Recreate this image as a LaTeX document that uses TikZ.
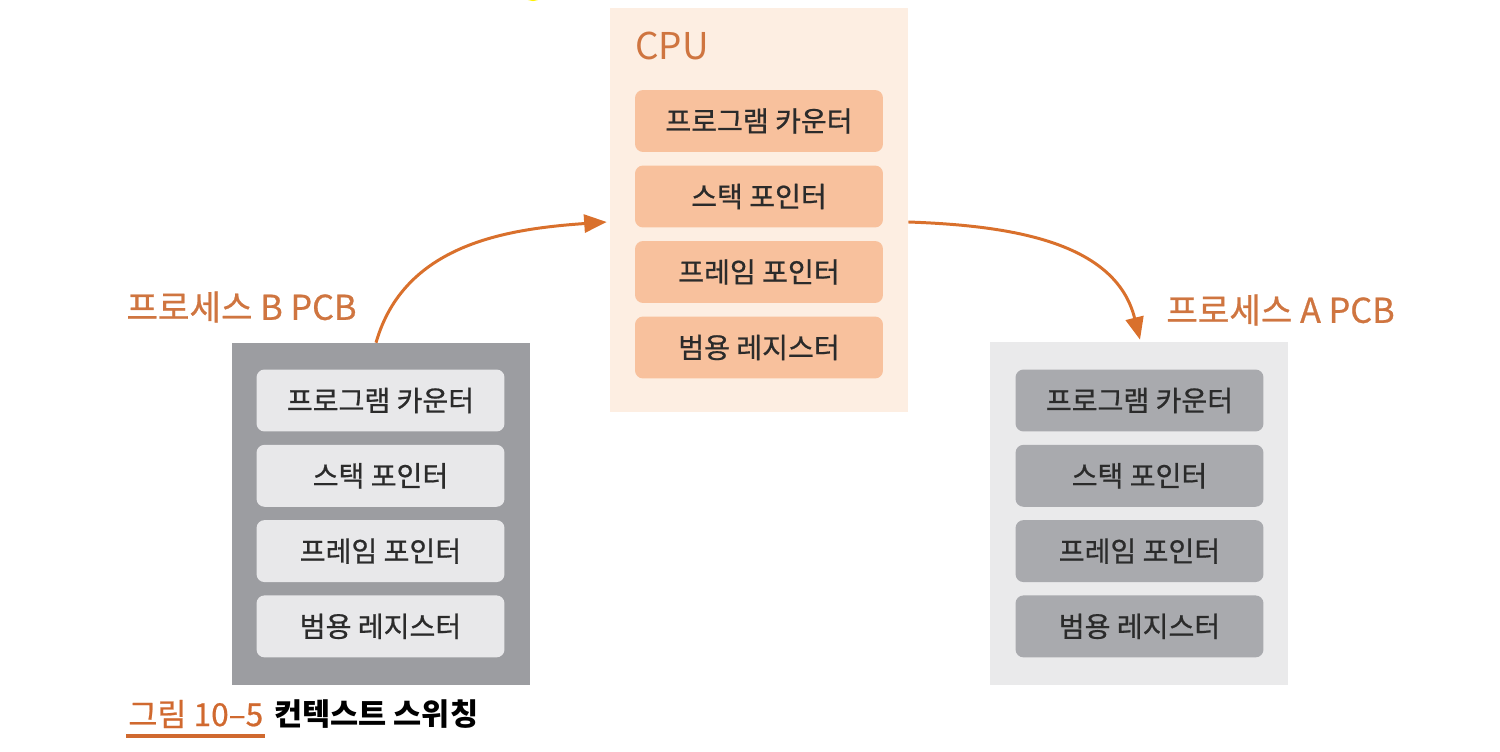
\documentclass[tikz,border=0pt]{standalone}
\usepackage{fontspec}
\newfontfamily\kr{Noto Sans CJK KR}
\newfontfamily\krm{Noto Sans CJK KR}[FakeBold=0.7]
\usetikzlibrary{arrows.meta,positioning,calc}
\definecolor{cpubg}{HTML}{FDEEE2}
\definecolor{cpureg}{HTML}{F8C19D}
\definecolor{pcbbbg}{HTML}{9C9DA1}
\definecolor{pcbbreg}{HTML}{E8E8EA}
\definecolor{pcbabg}{HTML}{EAEAEB}
\definecolor{pcbareg}{HTML}{A9AAAE}
\definecolor{lblorange}{HTML}{CF7540}
\definecolor{arroworange}{HTML}{D9702C}
\definecolor{figorange}{HTML}{D0692F}
\definecolor{regtext}{HTML}{2B2B2B}

\begin{document}
\begin{tikzpicture}[x=0.02cm,y=0.02cm,
    regbox/.style={rectangle,rounded corners=0.16cm,minimum width=4.96cm,minimum height=1.24cm,inner sep=0pt,font=\krm\fontsize{16}{19}\selectfont,text=regtext},
    outbox/.style={rectangle,minimum width=5.96cm,inner sep=0pt},
    pcblabel/.style={font=\krm\fontsize{19.5}{23}\selectfont,text=lblorange,inner sep=0pt},
    switcharrow/.style={draw=arroworange,line width=1.7pt,-{Triangle[length=0.45cm,width=0.36cm]}}]
  \useasboundingbox (0,0) rectangle (1500,751);
  \draw [yellow,line width=1.2pt] (533,763) circle (12);

  \path (759,541) node (cpu) [outbox,fill=cpubg,minimum height=8.08cm] {}
        (381,237) node (pcbb) [outbox,fill=pcbbbg,minimum height=6.84cm] {}
        (1139,237.5) node (pcba) [outbox,fill=pcbabg,minimum height=6.86cm] {};
  \node (cpulbl) [anchor=west,inner sep=0pt,font=\kr\fontsize{21}{25}\selectfont,text=lblorange] at (635,705) {CPU};

  \foreach \reg [count=\i] in {프로그램 카운터,스택 포인터,프레임 포인터,범용 레지스터} {
    \path (759,705.5-75.5*\i) node (cpu\i) [regbox,fill=cpureg] {\reg}
          (380.5,425.8-75.3*\i) node (pcbb\i) [regbox,fill=pcbbreg] {\reg}
          (1139.5,425.8-75.3*\i) node (pcba\i) [regbox,fill=pcbareg] {\reg};
  }

  \node (lblb) [pcblabel] at (241.5,444) {프로세스 B PCB};
  \node (lbla) [pcblabel] at (1280.5,441) {프로세스 A PCB};

  \draw [switcharrow] ($(pcbb.north)+(-5,0)$) to[out=74,in=184] ($(cpu.west)+(-3,-12)$);
  \draw [switcharrow] ($(cpu.east)+(0,-12)$) to[out=-2,in=104] ($(pcba.north)+(1,2)$);

  \node (fignum) [anchor=west,inner sep=0pt,font=\krm\fontsize{18}{22}\selectfont,text=figorange] at (128,37) {그림 10–5};
  \node (figtitle) [anchor=west,inner sep=0pt,font=\kr\bfseries\fontsize{17.4}{21}\selectfont,text=black] at (274,37) {컨텍스트 스위칭};
  \draw [figorange,line width=2.6pt] (126,15) -- (265,15);
\end{tikzpicture}
\end{document}
